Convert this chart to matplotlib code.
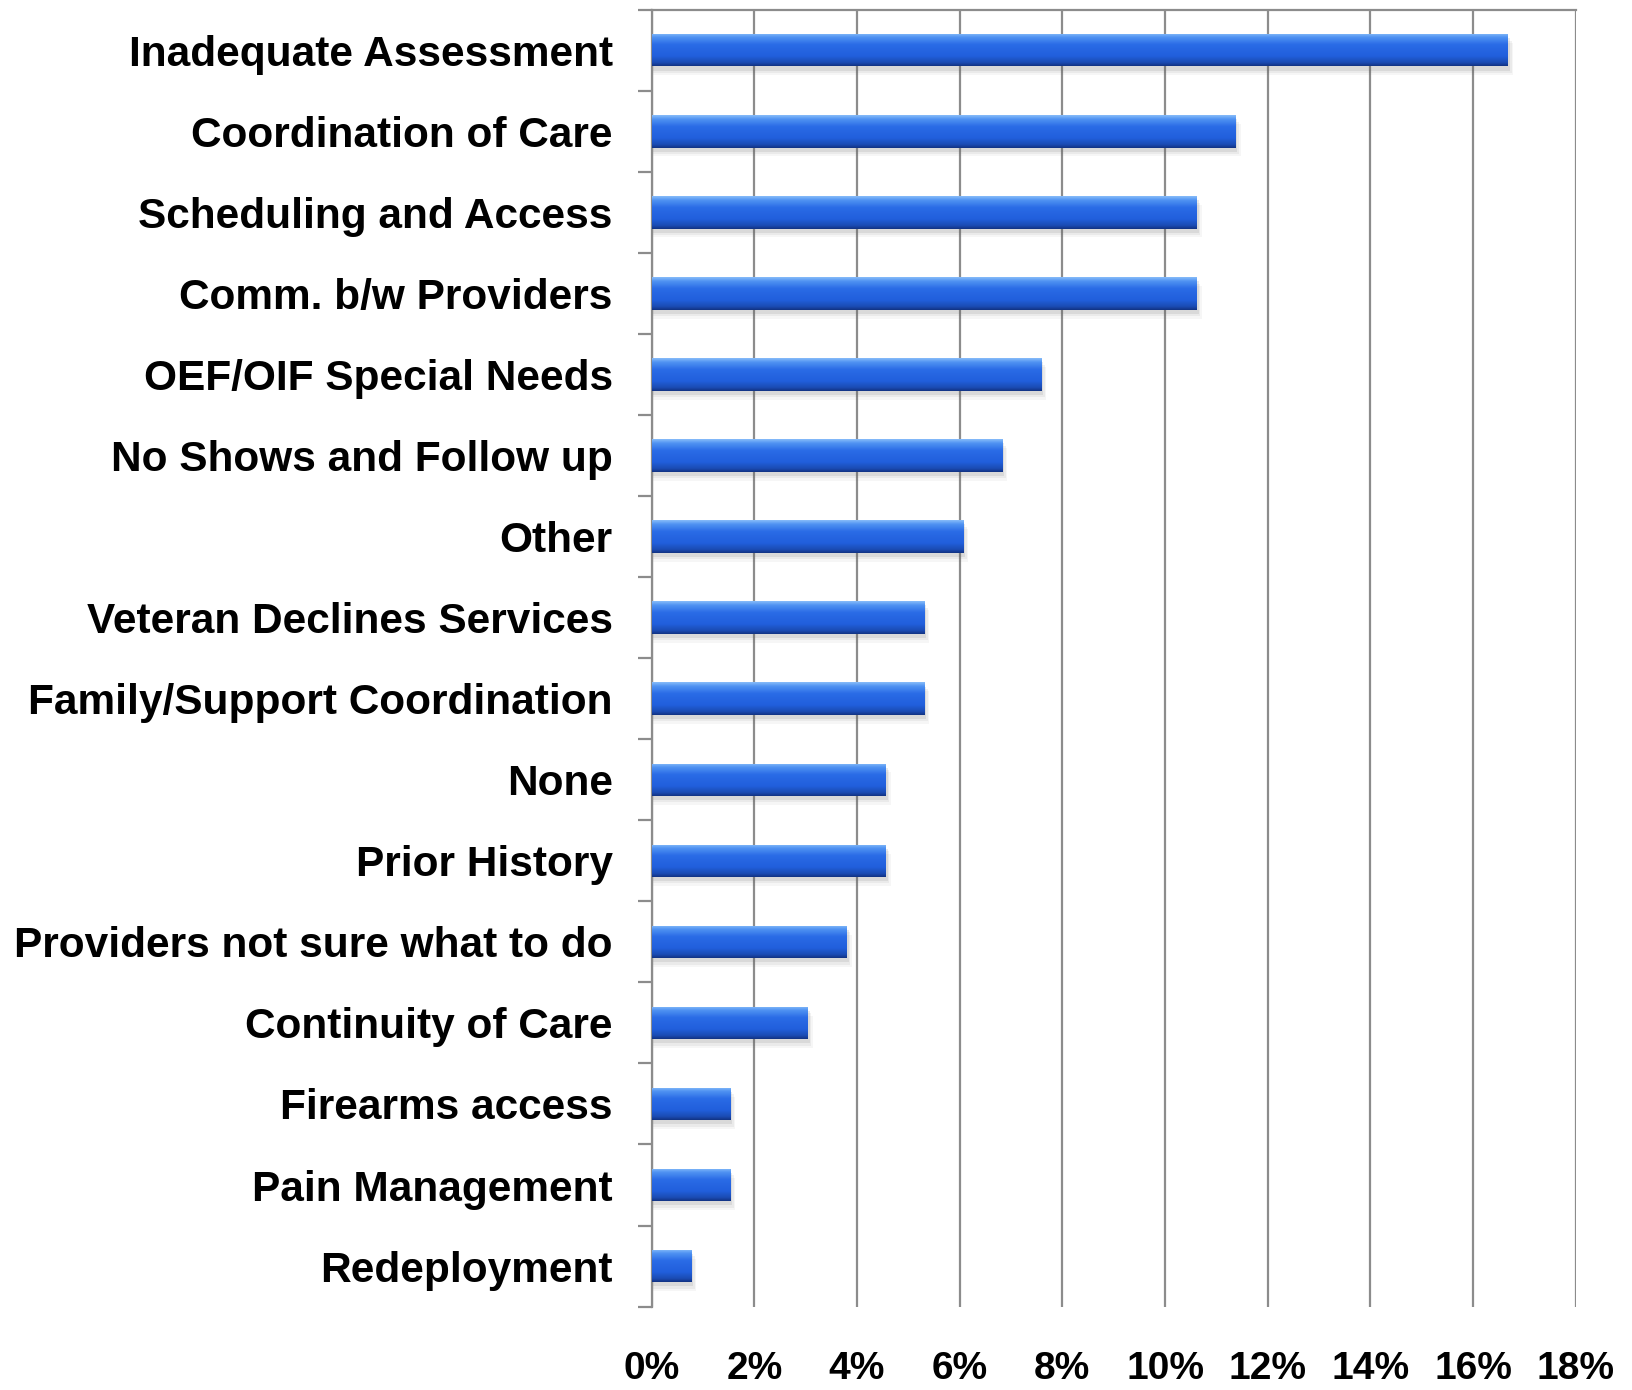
import numpy as np
import matplotlib
matplotlib.use('Agg')
import matplotlib.pyplot as plt
from matplotlib.colors import LinearSegmentedColormap
from matplotlib.patches import Rectangle
from matplotlib import font_manager

categories = [
    'Inadequate Assessment', 'Coordination of Care', 'Scheduling and Access',
    'Comm. b/w Providers', 'OEF/OIF Special Needs', 'No Shows and Follow up',
    'Other', 'Veteran Declines Services', 'Family/Support Coordination',
    'None', 'Prior History', 'Providers not sure what to do',
    'Continuity of Care', 'Firearms access', 'Pain Management', 'Redeployment',
]
percent = [16.67, 11.36, 10.61, 10.61, 7.58, 6.82, 6.06, 5.30, 5.30,
           4.55, 4.55, 3.79, 3.03, 1.52, 1.52, 0.76]
xticks = [0, 2, 4, 6, 8, 10, 12, 14, 16, 18]

names = {f.name for f in font_manager.fontManager.ttflist}
has_narrow = 'Liberation Sans Narrow' in names
narrow = 'Liberation Sans Narrow' if has_narrow else 'Liberation Sans'
label_size = 37 if has_narrow else 30.5
tick_size = 34 if has_narrow else 28

plt.rcParams['font.family'] = ['Liberation Sans', 'DejaVu Sans']

fig = plt.figure(figsize=(16.33, 13.90), dpi=100)
ax = fig.add_axes([0.399, 0.060, 0.566, 0.933])

y = np.arange(len(categories))
bars = ax.barh(y, percent, height=0.4, color='none', edgecolor='none', zorder=3)

# vertical shading for the bars: light top edge, dark bottom
blue = LinearSegmentedColormap.from_list('bar', [
    (0.0, '#86bbf9'), (0.12, '#4f92f2'), (0.35, '#2a6be6'),
    (0.7, '#215fdc'), (0.9, '#1b4cb4'), (1.0, '#123384')])
grad = np.linspace(0, 1, 64).reshape(-1, 1)

for b in bars:
    x0, y0 = b.get_x(), b.get_y()
    w, h = b.get_width(), b.get_height()
    # soft drop shadow
    for k, a in enumerate([0.12, 0.08, 0.05]):
        off = 0.05 + k * 0.03
        ax.add_patch(Rectangle((x0 + 0.02, y0 + off), w + 0.03 * (k + 1), h,
                               facecolor='#606060', edgecolor='none', alpha=a, zorder=2))
    im = ax.imshow(grad, cmap=blue, aspect='auto', extent=(x0, x0 + w, y0 + h, y0),
                   interpolation='bilinear', zorder=3)
    im.set_clip_path(b)

ax.set_xlim(0, 18)
ax.set_ylim(len(categories) - 0.5, -0.5)

ax.set_xticks(xticks)
ax.set_xticklabels(['%d%%' % t for t in xticks], fontsize=tick_size, fontweight='bold',
                   family=[narrow, 'DejaVu Sans'])
ax.tick_params(axis='x', length=0, pad=32)
ax.xaxis.grid(True, color='#8c8c8c', linewidth=1.6, zorder=0)
ax.set_axisbelow(True)

ax.set_yticks(y)
ax.set_yticklabels(categories, fontsize=label_size, fontweight='bold',
                   family=[narrow, 'DejaVu Sans'])
ax.tick_params(axis='y', length=0, pad=28)
ax.set_yticks(np.arange(-0.5, len(categories), 1), minor=True)
ax.tick_params(axis='y', which='minor', length=10, width=1.6, color='#8c8c8c', direction='out')

for side in ['right', 'bottom']:
    ax.spines[side].set_visible(False)
for side in ['left', 'top']:
    ax.spines[side].set_color('#8c8c8c')
    ax.spines[side].set_linewidth(1.6)

fig.savefig('out.png', dpi=100)
